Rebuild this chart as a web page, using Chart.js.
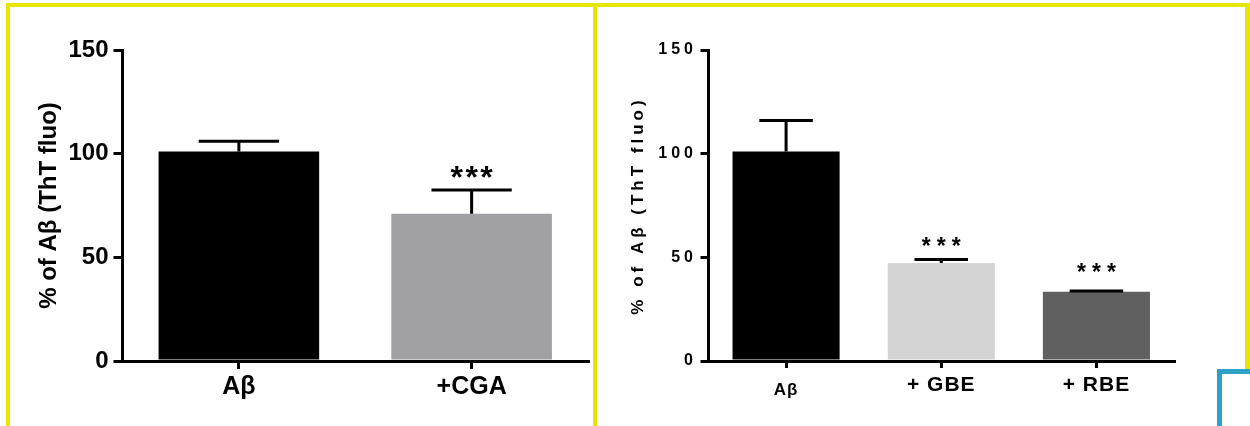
<!DOCTYPE html>
<html lang="en">
<head>
  <meta charset="UTF-8">
  <title>ThT fluorescence</title>
  <script src="https://cdn.jsdelivr.net/npm/chart.js"></script>
  <style>
    body { margin: 0; background: #fff; }
    .wrap { position: relative; width: 1250px; height: 426px; overflow: hidden; background: #fff; }
    .panel { position: absolute; top: 0; height: 426px; }
    .line { position: absolute; }
    .yellow { background: #e6e600; }
    .blue { background: #2fa3c3; }
  </style>
</head>
<body>
<div class="wrap">
  <div class="panel" style="left:0;width:595px"><canvas id="cgaChart"></canvas></div>
  <div class="panel" style="left:595px;width:655px"><canvas id="extractChart"></canvas></div>

  <!-- panel frames -->
  <div class="line yellow" style="left:6px;top:3px;width:591px;height:4px"></div>
  <div class="line yellow" style="left:6px;top:3px;width:4px;height:423px"></div>
  <div class="line yellow" style="left:593px;top:3px;width:4px;height:423px"></div>
  <div class="line yellow" style="left:593px;top:3px;width:657px;height:4px"></div>
  <div class="line yellow" style="left:1245px;top:3px;width:5px;height:366px"></div>
  <div class="line blue" style="left:1217px;top:369px;width:33px;height:5px"></div>
  <div class="line blue" style="left:1217px;top:369px;width:5px;height:57px"></div>
</div>

<script>
  // Aβ alone vs. chlorogenic acid
  const cgaLabels = ['Aβ', '+CGA'];
  const cgaValues = [101, 71];
  const cgaUpper = [106, 82.5];      // top of the error bar
  const cgaStars = ['', '***'];
  const cgaColors = ['#000000', '#a1a1a5'];

  // Aβ alone vs. the two extracts
  const extLabels = ['Aβ', '+ GBE', '+ RBE'];
  const extValues = [101, 47.3, 33.4];
  const extUpper = [116, 49, 33.8];
  const extStars = ['', '***', '***'];
  const extColors = ['#000000', '#d4d4d4', '#606060'];

  const yTicks = [0, 50, 100, 150];
  const yTitle = '% of Aβ (ThT fluo)';

  const FAMILY = '"Liberation Sans", Arial, Helvetica, sans-serif';
  Chart.defaults.color = '#000';
  Chart.defaults.font.family = FAMILY;

  // upward error bars plus significance stars, placed with the y scale
  function errorBars(upper, stars, style) {
    return {
      id: 'errorBars',
      afterDatasetsDraw(chart) {
        const ctx = chart.ctx;
        const y = chart.scales.y;
        const bars = chart.getDatasetMeta(0).data;
        ctx.save();
        ctx.strokeStyle = '#000';
        ctx.fillStyle = '#000';
        ctx.lineWidth = style.lineWidth;
        bars.forEach((bar, i) => {
          const top = y.getPixelForValue(upper[i]);
          const half = bar.width / 4;
          ctx.beginPath();
          ctx.moveTo(bar.x, bar.y);
          ctx.lineTo(bar.x, top);
          ctx.moveTo(bar.x - half, top);
          ctx.lineTo(bar.x + half, top);
          ctx.stroke();
          if (stars[i]) {
            ctx.font = style.starFont;
            ctx.letterSpacing = style.starSpacing + 'px';
            ctx.textAlign = 'center';
            ctx.textBaseline = 'alphabetic';
            ctx.fillText(stars[i], bar.x + style.starSpacing / 2, top - style.starGap[i]);
          }
        });
        ctx.restore();
      }
    };
  }

  function axisOptions(o) {
    return {
      x: {
        afterFit: s => { s.height = o.xHeight; },
        grid: { display: true, drawOnChartArea: false, offset: false, color: '#000', lineWidth: 3, tickLength: o.xTick },
        border: { display: true, color: '#000', width: 3 },
        ticks: { autoSkip: false, maxRotation: 0, padding: o.xPad, z: 1, font: o.xFont }
      },
      y: {
        min: 0, max: 150,
        afterFit: s => { s.width = o.yWidth; },
        afterBuildTicks: s => { s.ticks = yTicks.map(v => ({ value: v })); },
        grid: { display: true, drawOnChartArea: false, color: '#000', lineWidth: 3, tickLength: o.yTick },
        border: { display: true, color: '#000', width: 3 },
        ticks: { padding: o.yPad, font: o.yFont },
        title: { display: true, text: yTitle, font: o.titleFont, padding: { top: o.titlePad, bottom: 0 } }
      }
    };
  }

  new Chart(document.getElementById('cgaChart'), {
    type: 'bar',
    data: {
      labels: cgaLabels,
      datasets: [{ data: cgaValues, backgroundColor: cgaColors, borderWidth: 0, barPercentage: 0.69, categoryPercentage: 1 }]
    },
    options: {
      responsive: true,
      maintainAspectRatio: false,
      animation: false,
      layout: { padding: { top: 50, right: 7, left: 0, bottom: 0 } },
      plugins: { legend: { display: false }, tooltip: { enabled: false } },
      scales: axisOptions({
        xHeight: 65, xTick: 8, xPad: 3, xFont: { size: 25, weight: 'bold', lineHeight: 1.2 },
        yWidth: 122.5, yTick: 9, yPad: 5, yFont: { size: 24, weight: 'bold' },
        titleFont: { size: 24, weight: 'bold', lineHeight: 1.2 }, titlePad: 34.6
      })
    },
    plugins: [errorBars(cgaUpper, cgaStars, { lineWidth: 3, starFont: 'bold 32px ' + FAMILY, starSpacing: 2.5, starGap: [0, 2] })]
  });

  // wider letter spacing used by the second panel's text
  const spacing = {
    id: 'spacing',
    beforeUpdate(chart) { chart.ctx.letterSpacing = '4px'; },
    beforeDraw(chart) { chart.ctx.letterSpacing = '4px'; },
    afterDatasetsDraw(chart) { chart.ctx.letterSpacing = '1px'; }
  };

  new Chart(document.getElementById('extractChart'), {
    type: 'bar',
    data: {
      labels: extLabels,
      datasets: [{ data: extValues, backgroundColor: extColors, borderWidth: 0, barPercentage: 0.69, categoryPercentage: 1 }]
    },
    options: {
      responsive: true,
      maintainAspectRatio: false,
      animation: false,
      layout: { padding: { top: 50, right: 76, left: 0, bottom: 0 } },
      plugins: { legend: { display: false }, tooltip: { enabled: false } },
      scales: axisOptions({
        xHeight: 65, xTick: 7, xPad: 5,
        xFont: c => c.index === 0 ? { size: 17, weight: 'bold', lineHeight: 2 } : { size: 21, weight: 'bold', lineHeight: 1.2 },
        yWidth: 113.5, yTick: 8, yPad: 3.5, yFont: { size: 16, weight: 'bold' },
        titleFont: { size: 17, weight: 'bold', lineHeight: 1.2 }, titlePad: 32.8
      })
    },
    plugins: [spacing, errorBars(extUpper, extStars, { lineWidth: 3, starFont: 'bold 23px ' + FAMILY, starSpacing: 6, starGap: [0, 5, 11] })]
  });
</script>
</body>
</html>
